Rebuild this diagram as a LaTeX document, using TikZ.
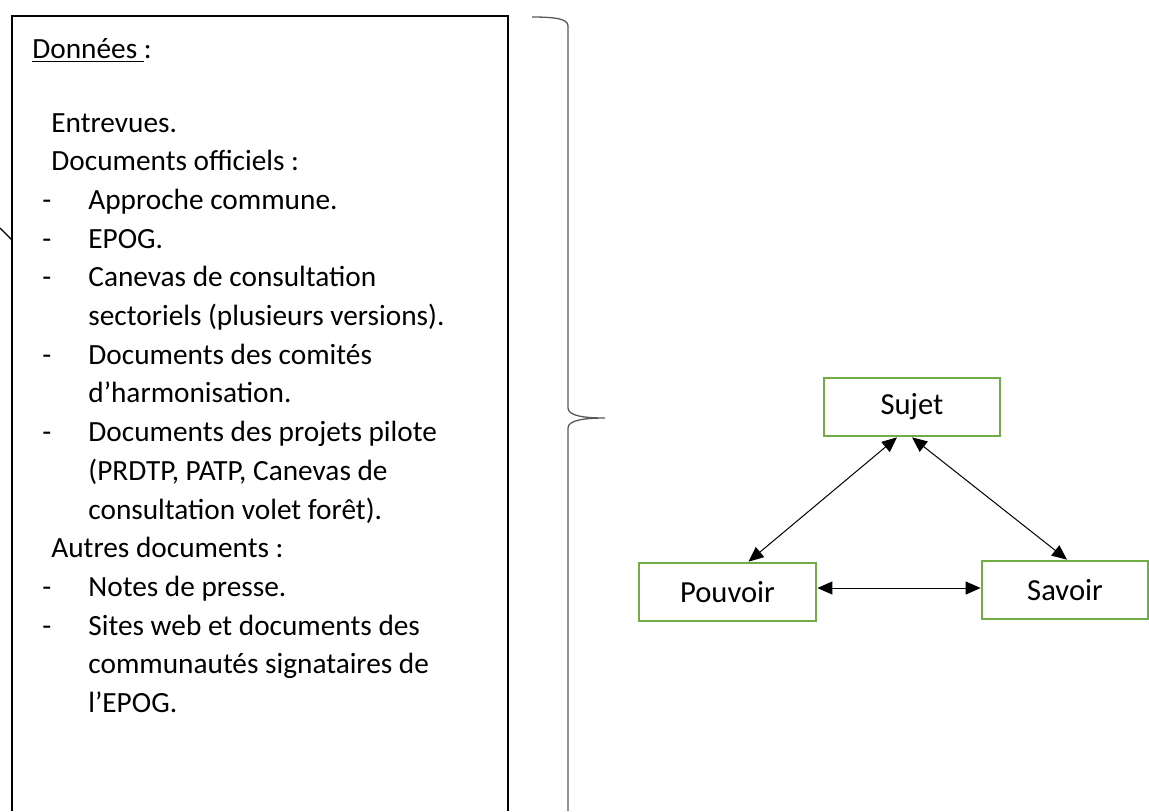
\documentclass[tikz,border=0pt]{standalone}
\usepackage{fontspec}
\setmainfont{Carlito}
\usetikzlibrary{arrows.meta}

\definecolor{boxgreen}{HTML}{70AD47}
\definecolor{bracegray}{HTML}{595959}

\tikzset{
  txt/.style={anchor=base west, inner sep=0pt, font=\fontsize{14.65}{19.35}\selectfont},
  concept/.style={draw=boxgreen, line width=1.35pt, minimum height=29pt, inner sep=0pt,
    font=\fontsize{15.3}{19.35}\selectfont},
  link/.style={{Triangle[length=7.5pt,width=6.5pt]}-{Triangle[length=7.5pt,width=6.5pt]}, line width=0.5pt},
}

\begin{document}
\begin{tikzpicture}[x=0.5pt, y=-0.5pt]
        \useasboundingbox (0,0) rectangle (1149,811);

        % Data frame (runs off the bottom of the page)
        \draw[line width=0.85pt] (12,811) -- (12,16) -- (508,16) -- (508,811);
        \draw[line width=0.6pt] (0,228) -- (12,240);

        % Contents of the frame
        \node[txt] (titre) at (32,58) {\underline{Données\ }:};
        \node[txt] (entrevues) at (51,132) {Entrevues.};
        \node[txt] (officiels) at (51,170.7) {Documents officiels :};
        \node[txt] (d1) at (42,209.4) {-};
        \node[txt] (approche) at (88,209.4) {Approche commune.};
        \node[txt] (d2) at (42,248.1) {-};
        \node[txt] (epog) at (88,248.1) {EPOG.};
        \node[txt] (d3) at (42,286.8) {-};
        \node[txt] (canevasa) at (88,286.8) {Canevas de consultation};
        \node[txt] (canevasb) at (88,325.5) {sectoriels (plusieurs versions).};
        \node[txt] (d4) at (42,364.2) {-};
        \node[txt] (comitesa) at (88,364.2) {Documents des comités};
        \node[txt] (comitesb) at (88,402.9) {d’harmonisation.};
        \node[txt] (d5) at (42,441.6) {-};
        \node[txt] (pilotea) at (88,441.6) {Documents des projets pilote};
        \node[txt] (piloteb) at (88,480.3) {(PRDTP, PATP, Canevas de};
        \node[txt] (pilotec) at (88,519) {consultation volet forêt).};
        \node[txt] (autres) at (51,557.7) {Autres documents :};
        \node[txt] (d6) at (42,596.4) {-};
        \node[txt] (presse) at (88,596.4) {Notes de presse.};
        \node[txt] (d7) at (42,635.1) {-};
        \node[txt] (sitesa) at (88,635.1) {Sites web et documents des};
        \node[txt] (sitesb) at (88,673.8) {communautés signataires de};
        \node[txt] (sitesc) at (88,712.5) {l’EPOG.};

        % Brace
        \draw[bracegray, line width=0.65pt]
          (532,17) .. controls (556,17) and (568,19) .. (568,26) -- (568,408)
          .. controls (568,416) and (585,418) .. (605,418)
          .. controls (585,418) and (568,420) .. (568,428) -- (568,811);

        % Triangle
        \node[concept, minimum width=88pt] (sujet) at (912,407) {Sujet};
        \node[concept, minimum width=88.5pt] (pouvoir) at (727.5,592) {Pouvoir};
        \node[concept, minimum width=83pt] (savoir) at (1065,590) {Savoir};

        \draw[link] ([xshift=-7.5pt]sujet.south) -- ([xshift=10.5pt]pouvoir.north);
        \draw[link] (sujet.south) -- ([xshift=1pt]savoir.north);
        \draw[link] ([yshift=2pt]pouvoir.east) -- ([yshift=1pt]savoir.west);
    \end{tikzpicture}
\end{document}
